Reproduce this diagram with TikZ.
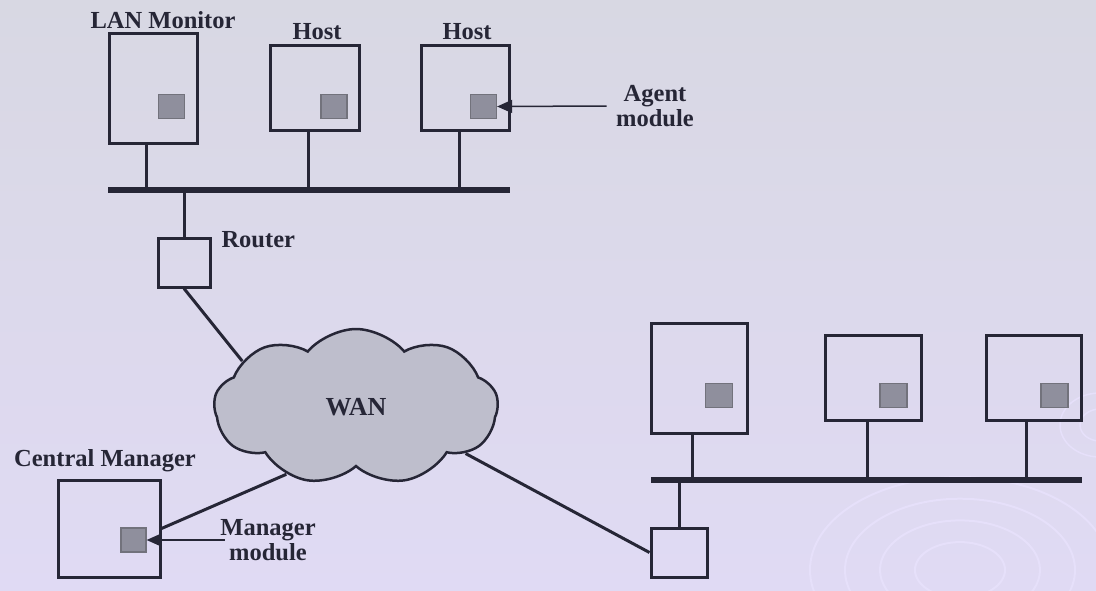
\documentclass[tikz,border=0pt]{standalone}
\usepackage{fontspec}
\setmainfont{Liberation Serif}
\usetikzlibrary{arrows.meta,positioning,shapes.symbols}
\definecolor{ink}{HTML}{262636}
\definecolor{modfill}{HTML}{8F8F9D}
\definecolor{cloudfill}{HTML}{BEBECC}
\definecolor{bgtop}{HTML}{D8D8E3}
\definecolor{bgbot}{HTML}{E0DAF4}
\definecolor{swirl}{HTML}{E6E0FA}

\begin{document}
\begin{tikzpicture}[x=1pt,y=-1pt,
  font=\bfseries\fontsize{24.5}{25}\selectfont,text=ink,
  hostbox/.style={draw=ink,line width=3pt,inner sep=0pt},
  module/.style={draw=ink!65,fill=modfill,line width=1.2pt,minimum width=26pt,minimum height=24pt,inner sep=0pt},
  wire/.style={draw=ink,line width=3pt},
  bus/.style={draw=ink,line width=6pt},
  pointer/.style={-{Triangle[length=15pt,width=13pt]},draw=ink,line width=1.5pt}]

% background
\fill[top color=bgtop,bottom color=bgbot] (0,0) rectangle (1096,590);
\useasboundingbox (0,0) rectangle (1096,590);
\begin{scope}
  \clip (0,0) rectangle (1096,590);
  \foreach \rr in {45,80,115,150}{\draw[swirl,line width=2pt] (960,570) ellipse [x radius=\rr, y radius=.62*\rr];}
  \foreach \rr in {20,40}{\draw[swirl,line width=1.5pt] (1100,425) ellipse [x radius=\rr, y radius=.8*\rr];}
\end{scope}

% upper LAN
\node[hostbox,minimum width=88pt,minimum height=110pt] (lanmon) at (153,88) {};
\node[hostbox,minimum width=89pt,minimum height=85pt] (hostA) at (314.5,87.5) {};
\node[hostbox,minimum width=88pt,minimum height=85pt] (hostB) at (465,87.5) {};
\node[module] (modL) at (171.5,106.5) {};
\node[module] (modA) at (334,106.5) {};
\node[module] (modB) at (483.5,106.5) {};
\node at (163,20) {LAN Monitor};
\node at (317,32) {Host};
\node at (467,32) {Host};
\node[align=center] (agentlbl) at (655,106) {Agent\\module};
\draw[pointer] ([xshift=-6pt]agentlbl.west) -- (modB.east);

\coordinate (busL) at (108,190);
\coordinate (busLend) at (510,190);
\draw[bus] (busL) -- (busLend);
\draw[wire] ([xshift=-7pt]lanmon.south) -- ([xshift=-7pt]lanmon.south |- busL);
\draw[wire] ([xshift=-6.5pt]hostA.south) -- ([xshift=-6.5pt]hostA.south |- busL);
\draw[wire] ([xshift=-6pt]hostB.south) -- ([xshift=-6pt]hostB.south |- busL);

\node[hostbox,minimum width=52pt,minimum height=49pt] (router) at (184,262.5) {};
\node[right] at (218,240) {Router};
\draw[wire] (router.north) -- (router.north |- busL);

% WAN
\node[cloud,cloud puffs=9,cloud puff arc=100,cloud ignores aspect,draw=ink,line width=2.5pt,fill=cloudfill,
  minimum width=284pt,minimum height=156pt,font=\bfseries\fontsize{26}{27}\selectfont] (wan) at (356,407) {WAN};
\draw[wire] (router.south) -- (wan.158);

% central manager
\node[hostbox,minimum width=102pt,minimum height=97pt] (cmgr) at (109,528.5) {};
\node[module,minimum width=25pt] (modM) at (133.5,540) {};
\node at (105,461) {Central Manager};
\node[align=center] (mgrlbl) at (268,540) {Manager\\module};
\draw[pointer] ([xshift=8pt]mgrlbl.west) -- (modM.east);
\draw[wire] (wan.224) -- (cmgr.east);

% lower LAN
\node[hostbox,minimum width=96pt,minimum height=110pt] (hostC) at (699,378) {};
\node[hostbox,minimum width=96pt,minimum height=85pt] (hostD) at (873,377.5) {};
\node[hostbox,minimum width=95pt,minimum height=85pt] (hostE) at (1033.5,377.5) {};
\node[module,minimum width=27pt] (modC) at (719,395.5) {};
\node[module,minimum width=27pt] (modD) at (893.5,395.5) {};
\node[module,minimum width=27pt] (modE) at (1054.5,395.5) {};

\coordinate (busR) at (651,480);
\coordinate (busRend) at (1082,480);
\draw[bus] (busR) -- (busRend);
\draw[wire] ([xshift=-7pt]hostC.south) -- ([xshift=-7pt]hostC.south |- busR);
\draw[wire] ([xshift=-6pt]hostD.south) -- ([xshift=-6pt]hostD.south |- busR);
\draw[wire] ([xshift=-7.5pt]hostE.south) -- ([xshift=-7.5pt]hostE.south |- busR);

\node[hostbox,minimum width=56pt,minimum height=49pt] (router2) at (679,552.5) {};
\draw[wire] (router2.north) -- (router2.north |- busR);
\draw[wire] (wan.337) -- (router2.west);

\end{tikzpicture}
\end{document}
